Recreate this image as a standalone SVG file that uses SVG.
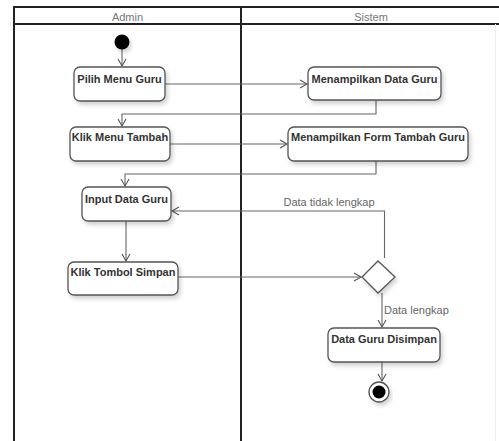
<svg xmlns="http://www.w3.org/2000/svg" width="499" height="441" viewBox="0 0 499 441">
<defs>
<filter id="sh" x="-20%" y="-20%" width="140%" height="160%">
<feDropShadow dx="2" dy="3" stdDeviation="2" flood-color="#000" flood-opacity="0.18"/>
</filter>
<marker id="arr" markerWidth="10" markerHeight="10" refX="8" refY="5" orient="auto" markerUnits="userSpaceOnUse">
<path d="M1,1 L8,5 L1,9" fill="none" stroke="#555" stroke-width="1.1"/>
</marker>
<style>
.lane{fill:none;stroke:#222;stroke-width:2}
.hdr{font-family:"Liberation Sans",Arial,sans-serif;font-size:11px;fill:#777;text-anchor:middle}
.box{fill:#fff;stroke:#555;stroke-width:1.3;filter:url(#sh)}
.lbl{font-family:"Liberation Sans",Arial,sans-serif;font-size:11px;font-weight:bold;fill:#333;text-anchor:middle}
.edge{fill:none;stroke:#666;stroke-width:1.1}
.elbl{font-family:"Liberation Sans",Arial,sans-serif;font-size:11px;fill:#666}
</style>
</defs>
<rect width="499" height="441" fill="#fff"/>
<g id="lanes">
<rect class="lane" x="14" y="7" width="492" height="445"/>
<line class="lane" x1="14" y1="24" x2="506" y2="24"/>
<line class="lane" x1="241" y1="7" x2="241" y2="452"/>
<line x1="495.5" y1="24" x2="495.5" y2="441" stroke="#eee" stroke-width="1"/>
<text class="hdr" x="127.5" y="21">Admin</text>
<text class="hdr" x="371" y="21">Sistem</text>
</g>
<g id="connectors">
<path class="edge" d="M122,49 L122,66" marker-end="url(#arr)"/>
<path class="edge" d="M165,84 L307,84" marker-end="url(#arr)"/>
<path class="edge" d="M376,100 L376,114 L122,114 L122,126" marker-end="url(#arr)"/>
<path class="edge" d="M170,144 L287,144" marker-end="url(#arr)"/>
<path class="edge" d="M376,161 L376,174 L125,174 L125,186" marker-end="url(#arr)"/>
<path class="edge" d="M126,221 L126,261" marker-end="url(#arr)"/>
<path class="edge" d="M178,277 L361,277" marker-end="url(#arr)"/>
<path class="edge" d="M384.5,258 L384.5,211 L172,211" marker-end="url(#arr)"/>
<path class="edge" d="M382,293 L382,327" marker-end="url(#arr)"/>
<path class="edge" d="M382,362 L382,381" marker-end="url(#arr)"/>
<text class="elbl" x="329" y="206" text-anchor="middle">Data tidak lengkap</text>
<text class="elbl" x="384" y="314">Data lengkap</text>
</g>
<g id="start"><circle cx="122" cy="42" r="7.5" fill="#000" filter="url(#sh)"/></g>
<g id="pilih"><rect class="box" x="74" y="67" width="91" height="34" rx="6"/><text class="lbl" x="119.5" y="83">Pilih Menu Guru</text></g>
<g id="tampilData"><rect class="box" x="308" y="67" width="133" height="33" rx="6"/><text class="lbl" x="374.5" y="83">Menampilkan Data Guru</text></g>
<g id="klikTambah"><rect class="box" x="70" y="127" width="100" height="34" rx="6"/><text class="lbl" x="120" y="141">Klik Menu Tambah</text></g>
<g id="tampilForm"><rect class="box" x="288" y="127" width="180" height="34" rx="6"/><text class="lbl" x="378" y="141">Menampilkan Form Tambah Guru</text></g>
<g id="input"><rect class="box" x="82" y="187" width="89" height="34" rx="6"/><text class="lbl" x="126.5" y="203">Input Data Guru</text></g>
<g id="simpan"><rect class="box" x="68" y="262" width="110" height="33" rx="6"/><text class="lbl" x="123" y="276">Klik Tombol Simpan</text></g>
<g id="decision"><path class="box" d="M378,261 L395,277 L378,293 L362,277 Z"/></g>
<g id="disimpan"><rect class="box" x="328" y="328" width="112" height="34" rx="6"/><text class="lbl" x="384" y="343">Data Guru Disimpan</text></g>
<g id="end"><circle cx="379" cy="392" r="10" fill="#fff" stroke="#555" stroke-width="1.3" filter="url(#sh)"/><circle cx="379" cy="392" r="6.5" fill="#000"/></g>
</svg>
